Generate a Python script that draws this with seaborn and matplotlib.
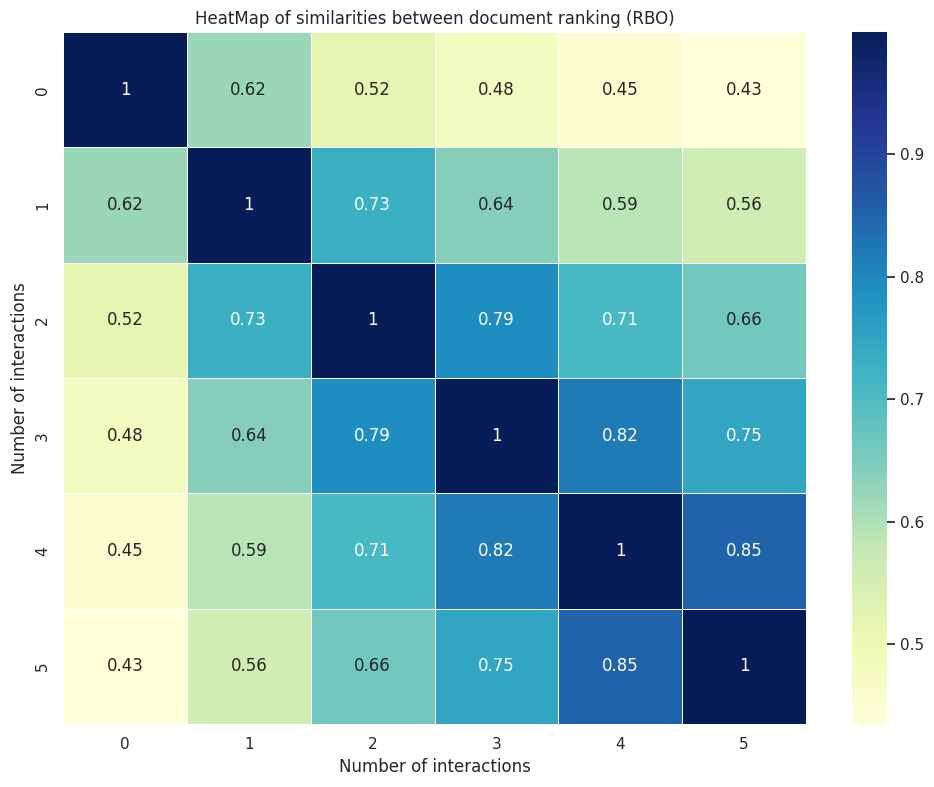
import numpy as np
import pandas as pd
import matplotlib
matplotlib.use("Agg")
import matplotlib.pyplot as plt
import seaborn as sns

labels = [0, 1, 2, 3, 4, 5]
row0 = [1.00, 0.62, 0.52, 0.48, 0.45, 0.434]
row1 = [0.62, 1.00, 0.73, 0.64, 0.59, 0.56]
row2 = [0.52, 0.73, 1.00, 0.79, 0.71, 0.66]
row3 = [0.48, 0.64, 0.79, 1.00, 0.82, 0.75]
row4 = [0.45, 0.59, 0.71, 0.82, 1.00, 0.85]
row5 = [0.434, 0.56, 0.66, 0.75, 0.85, 1.00]
cbar_ticks = [0.5, 0.6, 0.7, 0.8, 0.9]

df = pd.DataFrame([row0, row1, row2, row3, row4, row5], index=labels, columns=labels)

sns.set_theme()
fig = plt.figure(figsize=(9.34, 7.87), dpi=100)
ax = fig.add_axes([0.0675, 0.080, 0.7955, 0.8793])
cax = fig.add_axes([0.9122, 0.079, 0.0375, 0.8806])
sns.heatmap(df, annot=True, cmap="YlGnBu", linewidths=0.5, ax=ax, cbar_ax=cax,
            cbar_kws={"ticks": cbar_ticks})
ax.set_title("HeatMap of similarities between document ranking (RBO)")
ax.set_xlabel("Number of interactions")
ax.set_ylabel("Number of interactions")
plt.savefig("out.png")
